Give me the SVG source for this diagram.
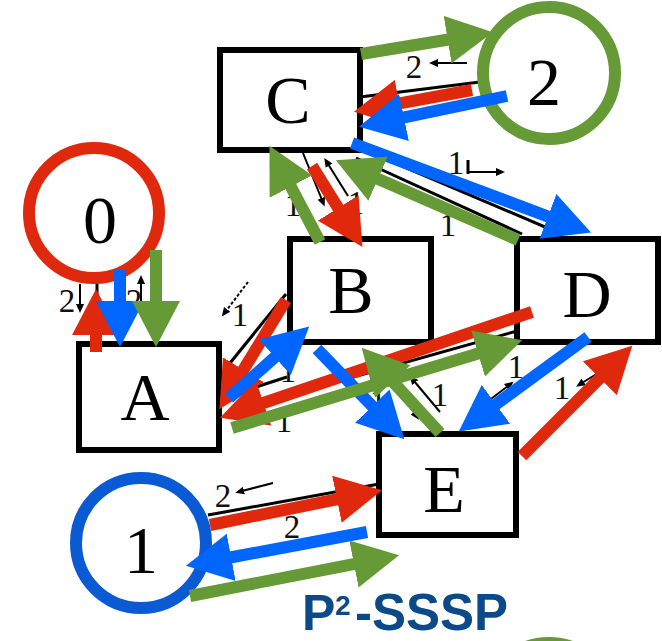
<svg xmlns="http://www.w3.org/2000/svg" width="662" height="641" viewBox="0 0 662 641">
  <style>
    .box { fill: #fff; stroke: #000; stroke-width: 6; }
    .lbl { font-family: "Liberation Serif", "Times New Roman", serif; font-size: 68px; text-anchor: middle; fill: #000; }
    .w { font-family: "Liberation Serif", "Times New Roman", serif; font-size: 33px; text-anchor: middle; fill: #111; }
    .edge { fill: none; stroke: #000; stroke-width: 3; }
    .tick { fill: none; stroke: #000; stroke-width: 2; marker-end: url(#tip); }
    .ring { fill: #fff; stroke-width: 12; }
    .r { fill: none; stroke: #e0290c; stroke-width: 12; marker-end: url(#hr); }
    .b { fill: none; stroke: #0066ff; stroke-width: 12; marker-end: url(#hb); }
    .g { fill: none; stroke: #669a36; stroke-width: 12; marker-end: url(#hg); }
    .title { font-family: "Liberation Sans", Arial, sans-serif; font-weight: bold; fill: #0b4a87; }
  </style>
  <defs>
    <marker id="hr" markerUnits="userSpaceOnUse" viewBox="0 0 48 48" markerWidth="48" markerHeight="48" refX="1" refY="24" orient="auto">
      <path d="M0,0 L46,24 L0,48 Z" fill="#e0290c"/>
    </marker>
    <marker id="hb" markerUnits="userSpaceOnUse" viewBox="0 0 48 48" markerWidth="48" markerHeight="48" refX="1" refY="24" orient="auto">
      <path d="M0,0 L46,24 L0,48 Z" fill="#0066ff"/>
    </marker>
    <marker id="hg" markerUnits="userSpaceOnUse" viewBox="0 0 48 48" markerWidth="48" markerHeight="48" refX="1" refY="24" orient="auto">
      <path d="M0,0 L46,24 L0,48 Z" fill="#669a36"/>
    </marker>
    <marker id="tip" markerUnits="userSpaceOnUse" viewBox="0 0 10 10" markerWidth="10" markerHeight="10" refX="2" refY="5" orient="auto">
      <path d="M0,1 L9,5 L0,9 Z" fill="#000"/>
    </marker>
  </defs>

  <!-- underlying weighted graph: thin edges and weight labels -->
  <g id="graph-edges">
    <line class="edge" x1="360" y1="97" x2="480" y2="82"/>
    <line class="tick" x1="467" y1="63" x2="436" y2="63"/>
    <text class="w" x="414" y="78">2</text>

    <line class="tick" x1="303" y1="153" x2="322" y2="200"/>
    <line class="tick" x1="348" y1="196" x2="328" y2="164"/>
    <text class="w" x="293" y="216">1</text>
    <text class="w" x="356" y="214">1</text>

    <line class="edge" x1="362" y1="149" x2="552" y2="230"/>
    <line class="edge" x1="356" y1="158" x2="522" y2="234" stroke-width="2"/>
    <text class="w" x="456" y="174">1</text>
    <line class="edge" x1="468" y1="160" x2="468" y2="174" stroke-width="2"/>
    <line class="tick" x1="468" y1="172" x2="498" y2="172"/>
    <text class="w" x="448" y="236">1</text>

    <line class="edge" x1="97" y1="280" x2="97" y2="345"/>
    <text class="w" x="67" y="312">2</text>
    <line class="tick" x1="80" y1="284" x2="80" y2="306"/>
    <text class="w" x="134" y="312">2</text>
    <line class="tick" x1="141" y1="310" x2="141" y2="282"/>

    <line class="edge" x1="286" y1="294" x2="226" y2="368"/>
    <line class="tick" x1="248" y1="282" x2="226" y2="311" stroke-dasharray="3 2"/>
    <text class="w" x="240" y="326">1</text>
    <line class="edge" x1="256" y1="387" x2="287" y2="377" stroke-width="2"/>
    <text class="w" x="288" y="382">1</text>
    <text class="w" x="284" y="432">1</text>

    <line class="edge" x1="300" y1="392" x2="517" y2="331"/>

    <line class="tick" x1="440" y1="412" x2="414" y2="381"/>
    <line class="tick" x1="396" y1="386" x2="415" y2="414"/>
    <text class="w" x="440" y="406">1</text>
    <text class="w" x="378" y="412">1</text>

    <text class="w" x="516" y="378">1</text>
    <line class="tick" x1="487" y1="402" x2="508" y2="386"/>
    <text class="w" x="562" y="399">1</text>
    <line class="tick" x1="603" y1="370" x2="582" y2="383"/>

    <line class="edge" x1="208" y1="515" x2="379" y2="484"/>
    <text class="w" x="223" y="507">2</text>
    <line class="tick" x1="273" y1="483" x2="242" y2="491"/>
    <text class="w" x="292" y="538">2</text>
  </g>

  <!-- vertices -->
  <g id="node-C">
    <rect class="box" x="220" y="50" width="140" height="100"/>
    <text class="lbl" x="288" y="123">C</text>
  </g>
  <g id="node-B">
    <rect class="box" x="290" y="239" width="141" height="103"/>
    <text class="lbl" x="351" y="313">B</text>
  </g>
  <g id="node-D">
    <rect class="box" x="517" y="239" width="141" height="103"/>
    <text class="lbl" x="587" y="317">D</text>
  </g>
  <g id="node-A">
    <rect class="box" x="79" y="344" width="140" height="106"/>
    <text class="lbl" x="145" y="420">A</text>
  </g>
  <g id="node-E">
    <rect class="box" x="379" y="434" width="137" height="101"/>
    <text class="lbl" x="444" y="512">E</text>
  </g>

  <!-- processors -->
  <g id="proc-0">
    <circle class="ring" cx="94" cy="213" r="65" stroke="#e0290c"/>
    <text class="lbl" x="100" y="243" font-size="64">0</text>
  </g>
  <g id="proc-2">
    <circle class="ring" cx="549" cy="73" r="66" stroke="#669a36"/>
    <text class="lbl" x="544" y="105">2</text>
  </g>
  <g id="proc-1">
    <circle class="ring" cx="141" cy="543" r="65" stroke="#0a5ad4"/>
    <text class="lbl" x="141" y="573">1</text>
  </g>
  <g id="proc-3">
    <circle class="ring" cx="549" cy="707" r="64" stroke="#669a36"/>
  </g>

  <!-- processor messages -->
  <g id="connectors">
    <line class="r" x1="96" y1="352" x2="96" y2="334"/>
    <line class="r" x1="312" y1="166" x2="338.7" y2="208.9"/>
    <line class="r" x1="472" y1="90" x2="398.2" y2="103.6"/>
    <line class="r" x1="286" y1="300" x2="242.9" y2="370.7"/>
    <line class="r" x1="532" y1="312" x2="262.6" y2="403.2"/>
    <line class="r" x1="522" y1="456" x2="600.5" y2="377.5"/>
    <line class="r" x1="210" y1="525" x2="337.9" y2="499.1"/>

    <line class="b" x1="120" y1="270" x2="120" y2="302"/>
    <line class="b" x1="507" y1="96" x2="403" y2="117.6"/>
    <line class="b" x1="352" y1="143" x2="548.9" y2="216.8"/>
    <line class="b" x1="229" y1="398" x2="275.6" y2="356.5"/>
    <line class="b" x1="317" y1="349" x2="373" y2="406.9"/>
    <line class="b" x1="588" y1="337" x2="495.1" y2="404.9"/>
    <line class="b" x1="367" y1="532" x2="230.2" y2="557.5"/>

    <line class="g" x1="156" y1="250" x2="156" y2="302"/>
    <line class="g" x1="361" y1="54" x2="448.6" y2="39.5"/>
    <line class="g" x1="320" y1="242" x2="290.4" y2="185.7"/>
    <line class="g" x1="518" y1="240" x2="377.1" y2="178.4"/>
    <line class="g" x1="232" y1="428" x2="479" y2="353.3"/>
    <line class="g" x1="440" y1="433" x2="392.1" y2="380.9"/>
    <line class="g" x1="190" y1="596" x2="354.9" y2="563.8"/>
  </g>

  <text class="title" x="302" y="630" font-size="50">P</text>
  <text class="title" x="335" y="615" font-size="28">2</text>
  <text class="title" x="355" y="630" font-size="51">-SSSP</text>
</svg>
